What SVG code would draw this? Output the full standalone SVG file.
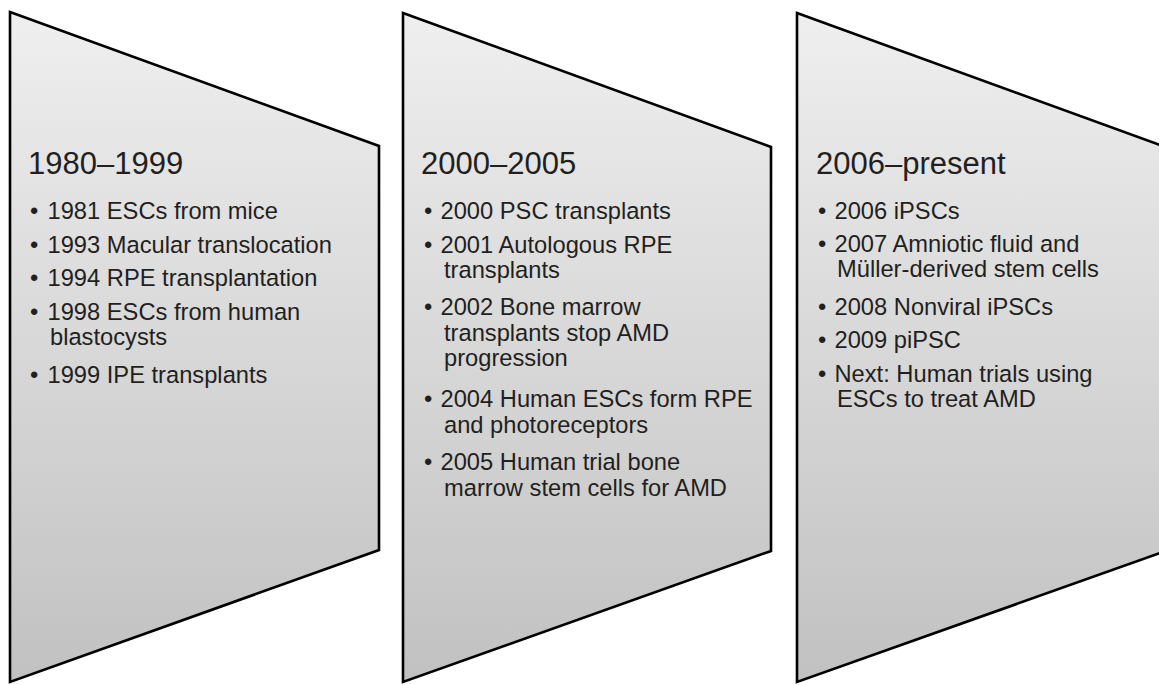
<svg xmlns="http://www.w3.org/2000/svg" width="1159" height="685" viewBox="0 0 1159 685">
<style>
.shape{stroke:#000;stroke-width:2.6;stroke-linejoin:miter;fill:url(#g)}
.h{font-family:"Liberation Sans",Arial,sans-serif;font-size:31px;fill:#231f20}
.t{font-family:"Liberation Sans",Arial,sans-serif;font-size:23.7px;fill:#231f20}
</style>
<defs>
<linearGradient id="g" x1="0" y1="0" x2="0" y2="1">
<stop offset="0" stop-color="#efefef"/>
<stop offset="1" stop-color="#c1c1c1"/>
</linearGradient>
</defs>
<g id="node-1980-1999">
<polygon class="shape" points="10,12 379,146 379,550 10,682"/>
<text class="h" x="28" y="174">1980–1999</text>
<text class="t" x="30" y="219">•</text><text class="t" x="47.5" y="219">1981 ESCs from mice</text>
<text class="t" x="30" y="252.5">•</text><text class="t" x="47.5" y="252.5">1993 Macular translocation</text>
<text class="t" x="30" y="286">•</text><text class="t" x="47.5" y="286">1994 RPE transplantation</text>
<text class="t" x="30" y="320">•</text><text class="t" x="47.5" y="320">1998 ESCs from human</text>
<text class="t" x="50" y="345">blastocysts</text>
<text class="t" x="30" y="383">•</text><text class="t" x="47.5" y="383">1999 IPE transplants</text>
</g>
<g id="node-2000-2005">
<polygon class="shape" points="403,13 771,147 771,551 403,682"/>
<text class="h" x="421" y="173.5">2000–2005</text>
<text class="t" x="424" y="219">•</text><text class="t" x="440.5" y="219">2000 PSC transplants</text>
<text class="t" x="424" y="253">•</text><text class="t" x="440.5" y="253">2001 Autologous RPE</text>
<text class="t" x="444" y="278">transplants</text>
<text class="t" x="424" y="315">•</text><text class="t" x="440.5" y="315">2002 Bone marrow</text>
<text class="t" x="444" y="340.5">transplants stop AMD</text>
<text class="t" x="444" y="366">progression</text>
<text class="t" x="424" y="407">•</text><text class="t" x="440.5" y="407">2004 Human ESCs form RPE</text>
<text class="t" x="444" y="432.5">and photoreceptors</text>
<text class="t" x="424" y="470">•</text><text class="t" x="440.5" y="470">2005 Human trial bone</text>
<text class="t" x="444" y="495.5">marrow stem cells for AMD</text>
</g>
<g id="node-2006-present">
<polygon class="shape" points="797,13 1163,146 1163,552 797,682"/>
<text class="h" x="816" y="174">2006–present</text>
<text class="t" x="818" y="219">•</text><text class="t" x="834.5" y="219">2006 iPSCs</text>
<text class="t" x="818" y="252">•</text><text class="t" x="834.5" y="252">2007 Amniotic fluid and</text>
<text class="t" x="837" y="277">Müller-derived stem cells</text>
<text class="t" x="818" y="315">•</text><text class="t" x="834.5" y="315">2008 Nonviral iPSCs</text>
<text class="t" x="818" y="348">•</text><text class="t" x="834.5" y="348">2009 piPSC</text>
<text class="t" x="818" y="382">•</text><text class="t" x="834.5" y="382">Next: Human trials using</text>
<text class="t" x="837" y="407">ESCs to treat AMD</text>
</g>
<g id="connectors"></g>
</svg>
